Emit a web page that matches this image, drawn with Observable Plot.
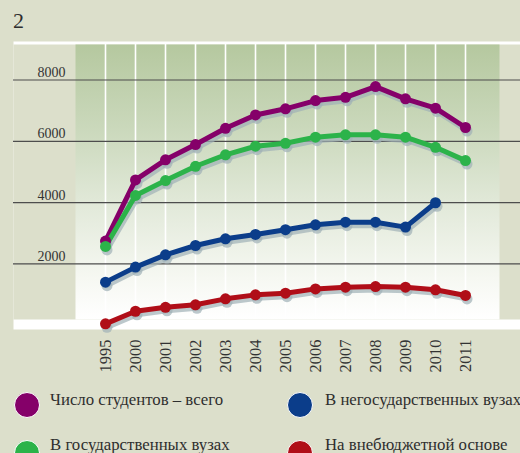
<!DOCTYPE html>
<html><head><meta charset="utf-8">
<script src="https://cdn.jsdelivr.net/npm/d3@7"></script>
<script src="https://cdn.jsdelivr.net/npm/@observablehq/plot@0.6"></script>
<style>
body{margin:0;background:#dcdfcb;font-family:"Liberation Serif",serif;color:#2e2e2e;}
#wrap{position:relative;width:520px;height:453px;overflow:hidden;}
#title{position:relative;height:36px;}
#title span{position:absolute;left:13px;top:9.6px;font-size:22px;line-height:22px;}
#chart svg{display:block;font-family:"Liberation Serif",serif !important;}
#chart svg text{font-family:"Liberation Serif",serif !important;}
#legend{position:relative;height:77px;}
.dot{position:absolute;width:26px;height:26px;border-radius:50%;box-sizing:border-box;border:1px solid #fff;}
.lab{position:absolute;font-size:16.8px;line-height:16px;white-space:nowrap;color:#2e2e2e;}
</style>
</head><body>
<div id="wrap">
<div id="title"><span>2</span></div>
<div id="chart"></div>
<div id="legend"></div>
</div>
<script>
const years = ["1995","2000","2001","2002","2003","2004","2005","2006","2007","2008","2009","2010","2011"];
const total    = [2745, 4740, 5395, 5895, 6425, 6860, 7060, 7330, 7435, 7785, 7385, 7080, 6450];
const state    = [2570, 4235, 4720, 5185, 5560, 5840, 5935, 6135, 6210, 6210, 6135, 5805, 5370];
const nonState = [1405, 1895, 2295, 2600, 2820, 2960, 3115, 3275, 3360, 3360, 3200, 3995, null];
const paid     = [45, 455, 585, 665, 860, 990, 1045, 1185, 1240, 1260, 1240, 1155, 970];
const seriesNames = ["Число студентов – всего","В государственных вузах","В негосударственных вузах","На внебюджетной основе"];
const colors = ["#850069","#2cb34a","#0b3d8a","#b00e18"];
const yTicks = [2000, 4000, 6000, 8000];

const data = [];
[total, state, nonState, paid].forEach((arr, i) => arr.forEach((v, j) => {
  if (v != null) data.push({series: seriesNames[i], year: years[j], value: v});
}));

const serif = "'Liberation Serif', serif";
const shadow = "#9fb1b6";
const plot = Plot.plot({
  width: 520, height: 340,
  marginTop: 8, marginBottom: 57, marginLeft: 75, marginRight: 21,
  style: {background: "transparent", fontFamily: serif, fontSize: "14px", color: "#333"},
  x: {type: "point", domain: years, range: [101.5, 469], padding: 0, axis: null},
  y: {domain: [0, 8000], range: [288.7, 43.5]},
  color: {domain: seriesNames, range: colors},
  marks: [
    Plot.frame({fill: "#ffffff", stroke: "none", insetLeft: -62, insetRight: -21, insetTop: -3, insetBottom: -10}),
    Plot.frame({fill: "#dcdfcb", stroke: "none", insetLeft: -62, insetRight: -21}),
    Plot.frame({fill: "url(#bggrad)", stroke: "none"}),
    Plot.ruleX(years, {x: d => d, stroke: "#ffffff", strokeWidth: 1.6}),
    Plot.ruleY(yTicks, {y: d => d, stroke: "#4d4d4d", strokeWidth: 1.2, insetLeft: -62, insetRight: -21}),
    Plot.line(data, {x: "year", y: "value", z: "series", stroke: shadow, strokeWidth: 5, strokeOpacity: 0.7, dx: 1.5, dy: 3.5}),
    Plot.dot(data, {x: "year", y: "value", r: 5.5, fill: shadow, fillOpacity: 0.7, dx: 1.5, dy: 3.5}),
    Plot.line(data, {x: "year", y: "value", z: "series", stroke: "series", strokeWidth: 5}),
    Plot.dot(data, {x: "year", y: "value", r: 5.5, fill: "series"}),
    Plot.axisY({ticks: yTicks, tickSize: 0, tickPadding: 10, dy: -7.5, fontSize: 14, fontFamily: serif, label: null, tickFormat: d => String(d), fill: "#333"}),
    Plot.text(years, {x: d => d, text: d => d, frameAnchor: "bottom", rotate: -90, textAnchor: "end", lineAnchor: "middle", dy: 20, fontSize: 16.5, fontFamily: serif, fill: "#333"})
  ]
});

const svg = plot.tagName.toLowerCase() === "svg" ? plot : plot.querySelector("svg");
const ns = "http://www.w3.org/2000/svg";
const defs = document.createElementNS(ns, "defs");
defs.innerHTML = '<linearGradient id="bggrad" x1="0" y1="0" x2="0" y2="1">' +
  '<stop offset="0" stop-color="#b5c89f"/>' +
  '<stop offset="0.3" stop-color="#cad8bb"/>' +
  '<stop offset="0.6" stop-color="#e3eadb"/>' +
  '<stop offset="0.85" stop-color="#f6f8f2"/>' +
  '<stop offset="1" stop-color="#ffffff"/></linearGradient>';
svg.insertBefore(defs, svg.firstChild);
document.getElementById("chart").appendChild(plot);

const legend = document.getElementById("legend");
const legendPos = [
  {dotLeft: 14, textLeft: 50, row: 0},
  {dotLeft: 14, textLeft: 50, row: 1},
  {dotLeft: 287, textLeft: 325, row: 0},
  {dotLeft: 287, textLeft: 325, row: 1}
];
seriesNames.forEach((name, i) => {
  const p = legendPos[i];
  const d = document.createElement("div");
  d.className = "dot";
  d.style.left = p.dotLeft + "px";
  d.style.top = (16 + p.row * 48) + "px";
  d.style.background = colors[i];
  legend.appendChild(d);
  const t = document.createElement("div");
  t.className = "lab";
  t.style.left = p.textLeft + "px";
  t.style.top = (15.6 + p.row * 45) + "px";
  t.textContent = name;
  legend.appendChild(t);
});
</script>
</body></html>
